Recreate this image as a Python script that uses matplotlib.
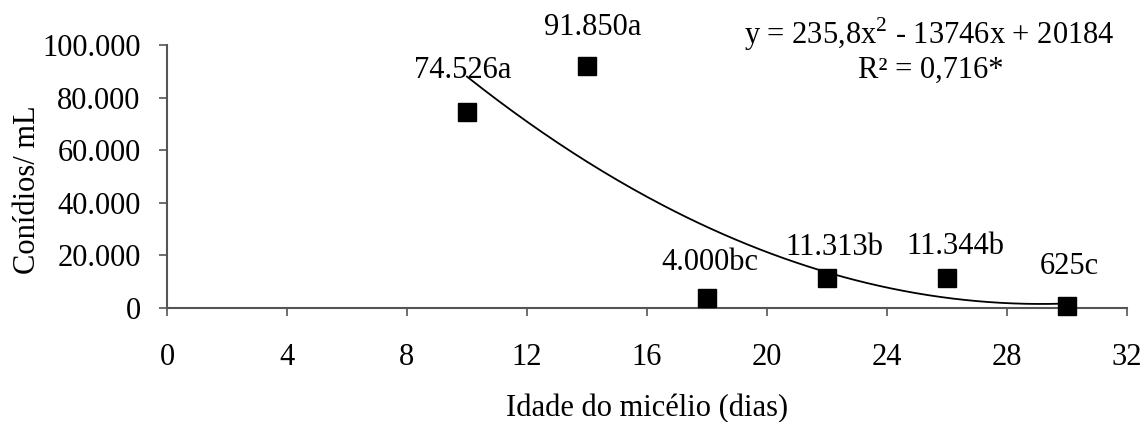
import numpy as np
import matplotlib
matplotlib.use("Agg")
import matplotlib.pyplot as plt
from matplotlib.ticker import FuncFormatter

# Data
dias = [10, 14, 18, 22, 26, 30]
conidios = [74526, 91850, 4000, 11313, 11344, 625]
rotulos = ["74.526a", "91.850a", "4.000bc", "11.313b", "11.344b", "625c"]
x_ticks = [0, 4, 8, 12, 16, 20, 24, 28, 32]
y_ticks = [0, 20000, 40000, 60000, 80000, 100000]
equacao = "y = 235,8x$^2$ - 13746x + 20184"
r2_text = "R² = 0,716*"

# label offsets (points)
label_offsets = [(-3, 30), (4, 28), (2, 25), (5, 22), (6, 23), (2, 29)]

plt.rcParams['font.family'] = ['Liberation Serif', 'DejaVu Serif']
plt.rcParams['mathtext.fontset'] = 'custom'
plt.rcParams['mathtext.rm'] = 'Liberation Serif'

fig = plt.figure(figsize=(11.46, 4.22), dpi=100)
ax = fig.add_axes([0.1457, 0.270, 0.8377, 0.6234])

fs = 22
ax.plot(dias, conidios, 's', color='black', markersize=13, zorder=3, clip_on=False)

coef = np.polyfit(dias, conidios, 2)
xs = np.linspace(min(dias), max(dias), 200)
ax.plot(xs, np.polyval(coef, xs), color='black', lw=1.3, zorder=2)

for x, y, t, off in zip(dias, conidios, rotulos, label_offsets):
    ax.annotate(t, (x, y), xytext=off, textcoords='offset points',
                ha='center', va='center', fontsize=fs)

ax.text(0.794, 1.04, equacao, transform=ax.transAxes, ha='center', va='center', fontsize=fs)
ax.text(0.796, 0.905, r2_text, transform=ax.transAxes, ha='center', va='center', fontsize=fs)

ax.set_xlim(0, 32)
ax.set_ylim(0, 100000)
ax.set_xticks(x_ticks)
ax.set_yticks(y_ticks)
ax.yaxis.set_major_formatter(FuncFormatter(lambda v, p: f"{int(v):,}".replace(",", ".")))
ax.tick_params(axis='both', labelsize=fs, length=6, width=1.2, color='#555555', direction='out')
ax.tick_params(axis='x', pad=19)
ax.tick_params(axis='y', pad=13)
for s in ['top', 'right']:
    ax.spines[s].set_visible(False)
for s in ['left', 'bottom']:
    ax.spines[s].set_color('#555555')
    ax.spines[s].set_linewidth(1.5)

ax.set_xlabel("Idade do micélio (dias)", fontsize=fs, labelpad=16)
ax.set_ylabel("Conídios/ mL", fontsize=fs, va='center')
ax.yaxis.set_label_coords(-0.145, 0.45)

fig.savefig("out.png", dpi=100)
